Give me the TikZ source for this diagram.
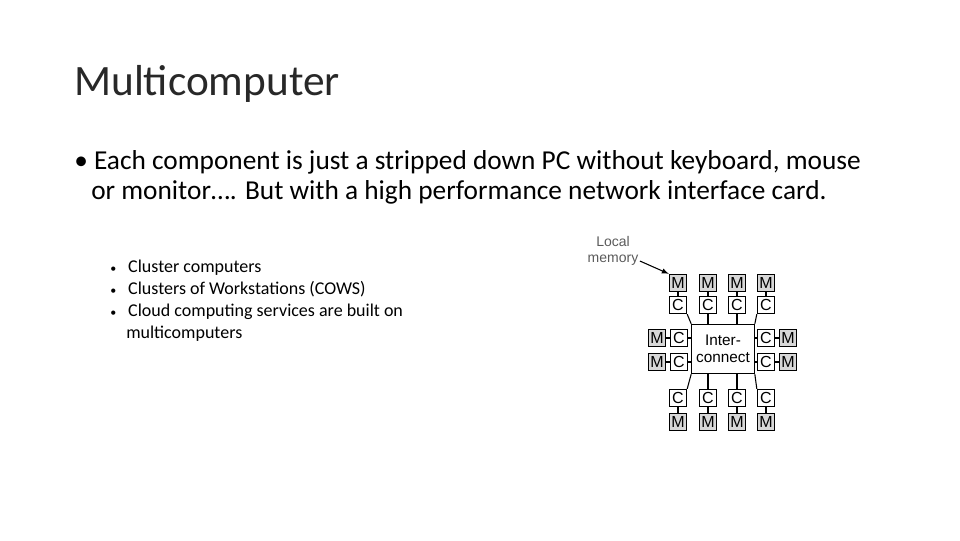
\documentclass[tikz,border=0pt]{standalone}
\usepackage{fontspec}
\setmainfont{Carlito}
\newfontfamily\helv{Liberation Sans}
\usetikzlibrary{positioning}
\definecolor{memgray}{RGB}{215,215,215}
\definecolor{txtgray}{RGB}{40,40,40}
\definecolor{lblgray}{RGB}{90,90,90}
\begin{document}
\begin{tikzpicture}[
        x=0.75pt, y=-0.75pt,
        unit/.style = {draw, thick, minimum size=13pt, inner sep=0pt, font=\helv\fontsize{12}{12}\selectfont},
        mem/.style = {unit, fill=memgray},
        cpu/.style = {unit, fill=white},
        link/.style = {draw, thick}
    ]
 \useasboundingbox (0,0) rectangle (960,540);
 % title and bullets
 \node[anchor=base west, inner sep=0pt, text=txtgray, font=\fontsize{32.5}{32.5}\selectfont] (title) at (74,95) {Multicomputer};
 \node[anchor=base west, inner sep=0pt, font=\fontsize{20.5}{20.5}\selectfont] (b1) at (74,169) {\textbullet\ Each component is just a stripped down PC without keyboard, mouse};
 \node[anchor=base west, inner sep=0pt, font=\fontsize{20.5}{20.5}\selectfont] (b2) at (91,199) {or monitor\dots. But with a high performance network interface card.};
 \foreach \t [count=\i] in {Cluster computers, Clusters of Workstations (COWS), Cloud computing services are built on}
   \node[anchor=base west, inner sep=0pt, font=\fontsize{13.5}{13.5}\selectfont] (s\i) at (110,272+22*\i-22) {{\fontsize{9}{9}\selectfont\textbullet}\hspace{9pt}\t};
 \node[anchor=base west, inner sep=0pt, font=\fontsize{13.5}{13.5}\selectfont] (s4) at (126,338) {multicomputers};
 % interconnect
 \node[draw, thick, minimum width=42pt, minimum height=37pt, align=center, font=\helv\fontsize{11.5}{13}\selectfont] (ic) at (723,349) {Inter-\\connect};
 % top and bottom rows
 \foreach \x [count=\i] in {678,708,737,766} {
   \node[mem] (tm\i) at (\x,283) {M};
   \node[cpu] (tc\i) at (\x,305) {C};
   \node[cpu] (bc\i) at (\x,398) {C};
   \node[mem] (bm\i) at (\x,422) {M};
   \draw[link] (tm\i) -- (tc\i);
   \draw[link] (bc\i) -- (bm\i);
 }
 \foreach \i in {2,3} {
   \draw[link] (tc\i) -- (tc\i |- ic.north);
   \draw[link] (bc\i) -- (bc\i |- ic.south);
 }
 \draw[link] (tc1.south east) -- (ic.north west);
 \draw[link] (tc4.south west) -- (ic.north east);
 \draw[link] (bc1.north east) -- (ic.south west);
 \draw[link] (bc4.north west) -- (ic.south east);
 % side columns
 \foreach \y [count=\i] in {338,362} {
   \node[cpu] (lc\i) at (679,\y) {C};
   \node[mem] (lm\i) at (657,\y) {M};
   \node[cpu] (rc\i) at (766,\y) {C};
   \node[mem] (rm\i) at (788,\y) {M};
   \draw[link] (lm\i) -- (lc\i);
   \draw[link] (lc\i) -- (lc\i -| ic.west);
   \draw[link] (rc\i) -- (rm\i);
   \draw[link] (rc\i) -- (rc\i -| ic.east);
 }
 % label
 \node[align=center, inner sep=1pt, text=lblgray, font=\helv\fontsize{10.5}{12.5}\selectfont] (lmem) at (613,251) {Local\\memory};
 \draw[thick, -latex] (lmem.east |- 0,261) -- (tm1.north west);
\end{tikzpicture}
\end{document}
